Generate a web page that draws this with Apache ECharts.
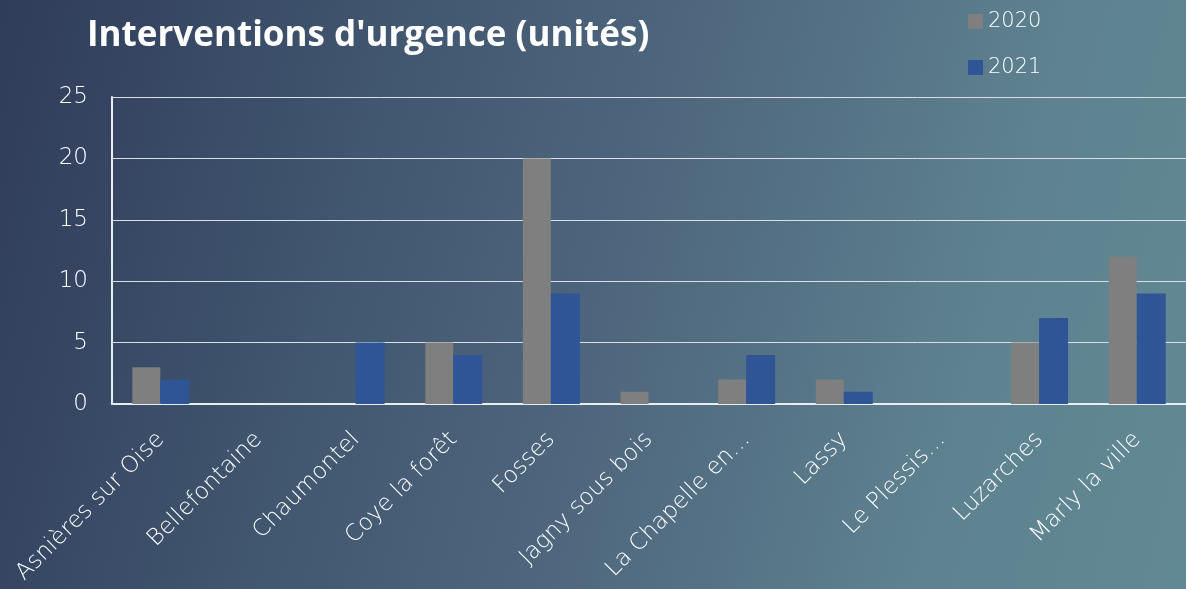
<!DOCTYPE html>
<html>
<head>
<meta charset="utf-8">
<script src="https://cdn.jsdelivr.net/npm/echarts@6/dist/echarts.min.js"></script>
<style>
html,body{margin:0;padding:0;width:1186px;height:589px;overflow:hidden;}
body{background:linear-gradient(105deg,#2f3c5a 0%,#41566f 30%,#50697f 55%,#5e8290 80%,#618994 100%);}
#c{width:1186px;height:589px;}
</style>
</head>
<body>
<div id="c"></div>
<script>
const title = "Interventions d'urgence (unités)";
const categories = ["Asnières sur Oise","Bellefontaine","Chaumontel","Coye la forêt","Fosses","Jagny sous bois","La Chapelle en…","Lassy","Le Plessis…","Luzarches","Marly la ville"];
const seriesNames = ["2020","2021"];
const values2020 = [3,0,0,5,20,1,2,2,0,5,12];
const values2021 = [2,0,5,4,9,0,4,1,0,7,9];
const yTicks = [0,5,10,15,20,25];

const chart = echarts.init(document.getElementById('c'));
const font = "'DejaVu Sans', sans-serif";
chart.setOption({
  backgroundColor: 'transparent',
  animation: false,
  title: {
    text: title, left: 82, top: 14,
    textStyle: {color:'#ffffff', fontSize: 35, fontWeight: 'bold', fontFamily: "'Open Sans', 'Noto Sans', sans-serif"}
  },
  legend: {
    data: seriesNames, orient: 'vertical', left: 963, top: 6, itemGap: 25,
    itemWidth: 15, itemHeight: 15, icon: 'rect',
    textStyle: {color:'#ffffff', fontSize: 21, fontFamily: font, fontWeight: 300, padding:[0,0,0,0]}
  },
  grid: {left: 112, top: 97, width: 1078, height: 307, containLabel: false},
  xAxis: {
    type: 'category', data: categories,
    axisLine: {show: true, lineStyle: {color:'#e8edf2', width: 2}},
    axisTick: {show: false},
    axisLabel: {color:'#ffffff', fontSize: 23, fontFamily: font, fontWeight: 300, rotate: 45, interval: 0, margin: 32}
  },
  yAxis: {
    type: 'value', min: yTicks[0], max: yTicks[yTicks.length-1], interval: 5,
    axisLine: {show: true, lineStyle: {color:'#e8edf2', width: 2}},
    axisTick: {show: false},
    axisLabel: {color:'#ffffff', fontSize: 23, fontFamily: font, fontWeight: 300, margin: 24}
  },
  series: [
    {name: seriesNames[0], type: 'bar', data: values2020, barWidth: 28, barGap: '0%', itemStyle: {color:'#7f7f7f'}},
    {name: seriesNames[1], type: 'bar', data: values2021, barWidth: 29, itemStyle: {color:'#2f5597'}}
  ]
});
</script>
</body>
</html>
